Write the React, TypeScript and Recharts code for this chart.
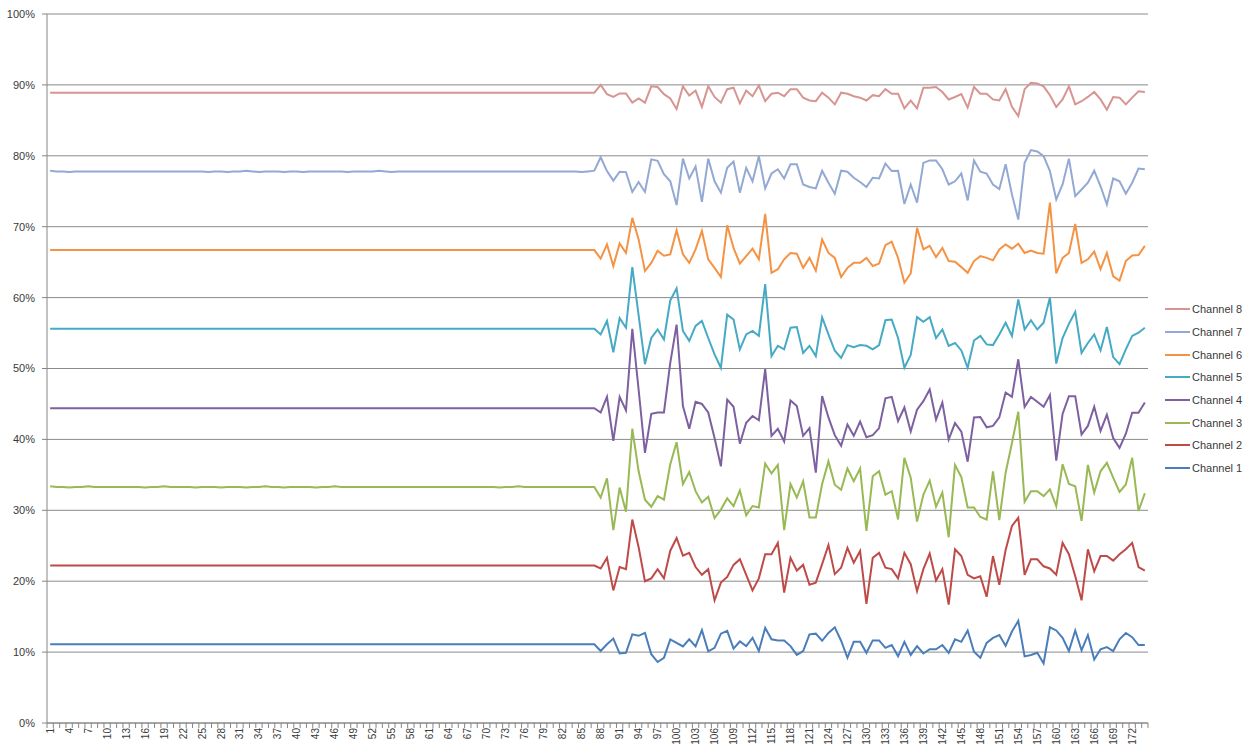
import React from "react";
import { LineChart, Line, XAxis, YAxis, CartesianGrid, Legend } from "recharts";

// categories 1..174 (sample index)
const categories = Array.from({ length: 174 }, (_, i) => String(i + 1));
const yTicks = [0, 10, 20, 30, 40, 50, 60, 70, 80, 90, 100];

// values in %, samples 1-87 then 88-174
const channel1 = [
  11.1, 11.1, 11.1, 11.1, 11.1, 11.1, 11.1, 11.1, 11.1,
  11.1, 11.1, 11.1, 11.1, 11.1, 11.1, 11.1, 11.1, 11.1, 11.1,
  11.1, 11.1, 11.1, 11.1, 11.1, 11.1, 11.1, 11.1, 11.1, 11.1,
  11.1, 11.1, 11.1, 11.1, 11.1, 11.1, 11.1, 11.1, 11.1, 11.1,
  11.1, 11.1, 11.1, 11.1, 11.1, 11.1, 11.1, 11.1, 11.1, 11.1,
  11.1, 11.1, 11.1, 11.1, 11.1, 11.1, 11.1, 11.1, 11.1, 11.1,
  11.1, 11.1, 11.1, 11.1, 11.1, 11.1, 11.1, 11.1, 11.1, 11.1,
  11.1, 11.1, 11.1, 11.1, 11.1, 11.1, 11.1, 11.1, 11.1, 11.1,
  11.1, 11.1, 11.1, 11.1, 11.1, 11.1, 11.1, 11.1,
  10.15, 11.1, 11.9, 9.8, 9.9, 12.5, 12.3, 12.7, 9.7, 8.6, 9.2, 11.8,
  11.3, 10.8, 11.8, 10.8, 13.1, 10.1, 10.6, 12.6, 13.0, 10.5,
  11.5, 10.85, 12.0, 10.15, 13.4, 11.8, 11.65, 11.65, 10.85, 9.6,
  10.15, 12.5, 12.6, 11.6, 12.7, 13.5, 11.6, 9.2, 11.45, 11.45,
  9.9, 11.65, 11.65, 10.6, 11.0, 9.4, 11.45, 9.6, 10.85, 9.8,
  10.4, 10.4, 11.0, 9.9, 11.8, 11.45, 13.05, 10.05, 9.2, 11.3,
  12.0, 12.4, 10.9, 12.9, 14.4, 9.4, 9.6, 9.9, 8.4, 13.5,
  13.05, 12.0, 10.15, 13.05, 10.25, 12.4, 8.95, 10.4, 10.7, 10.15,
  11.8, 12.7, 12.1, 11.0, 11.0,
];

const channel2 = [
  22.2, 22.2, 22.2, 22.2, 22.2, 22.2, 22.2, 22.2, 22.2,
  22.2, 22.2, 22.2, 22.2, 22.2, 22.2, 22.2, 22.2, 22.2, 22.2,
  22.2, 22.2, 22.2, 22.2, 22.2, 22.2, 22.2, 22.2, 22.2, 22.2,
  22.2, 22.2, 22.2, 22.2, 22.2, 22.2, 22.2, 22.2, 22.2, 22.2,
  22.2, 22.2, 22.2, 22.2, 22.2, 22.2, 22.2, 22.2, 22.2, 22.2,
  22.2, 22.2, 22.2, 22.2, 22.2, 22.2, 22.2, 22.2, 22.2, 22.2,
  22.2, 22.2, 22.2, 22.2, 22.2, 22.2, 22.2, 22.2, 22.2, 22.2,
  22.2, 22.2, 22.2, 22.2, 22.2, 22.2, 22.2, 22.2, 22.2, 22.2,
  22.2, 22.2, 22.2, 22.2, 22.2, 22.2, 22.2, 22.2,
  21.8, 23.3, 18.7, 22.0, 21.7, 28.7, 24.8, 20.0, 20.4, 21.7, 20.4, 24.3,
  26.1, 23.6, 24.0, 22.0, 20.9, 21.7, 17.3, 19.8, 20.6, 22.3,
  23.1, 20.9, 18.7, 20.4, 23.8, 23.8, 25.4, 18.4, 23.3, 21.5,
  22.3, 19.5, 19.8, 22.4, 25.1, 21.0, 21.9, 24.7, 22.6, 24.25,
  16.8, 23.3, 24.0, 21.9, 21.7, 20.4, 24.0, 22.4, 18.6, 21.7,
  23.9, 20.1, 21.7, 16.7, 24.5, 23.55, 20.9, 20.4, 20.7, 17.8,
  23.55, 19.5, 24.4, 27.8, 28.95, 20.9, 23.1, 23.1, 22.1, 21.8,
  20.9, 25.4, 23.8, 20.7, 17.3, 24.5, 21.4, 23.55, 23.55, 22.9,
  23.8, 24.5, 25.4, 22.0, 21.5,
];

const channel3 = [
  33.4, 33.3, 33.3, 33.2, 33.3, 33.3, 33.4, 33.3, 33.3,
  33.3, 33.3, 33.3, 33.3, 33.3, 33.3, 33.2, 33.3, 33.3, 33.4,
  33.3, 33.3, 33.3, 33.3, 33.2, 33.3, 33.3, 33.3, 33.2, 33.3,
  33.3, 33.3, 33.2, 33.3, 33.3, 33.4, 33.3, 33.3, 33.2, 33.3,
  33.3, 33.3, 33.3, 33.2, 33.3, 33.3, 33.4, 33.3, 33.3, 33.3,
  33.3, 33.3, 33.3, 33.3, 33.3, 33.3, 33.3, 33.3, 33.3, 33.3,
  33.3, 33.3, 33.3, 33.3, 33.3, 33.3, 33.3, 33.3, 33.3, 33.3,
  33.3, 33.3, 33.2, 33.3, 33.3, 33.4, 33.3, 33.3, 33.3, 33.3,
  33.3, 33.3, 33.3, 33.3, 33.3, 33.3, 33.3, 33.3,
  31.8, 34.5, 27.2, 33.2, 29.8, 41.5, 35.5, 31.5, 30.5, 32.0, 31.5, 36.5,
  39.6, 33.7, 35.4, 32.7, 31.1, 31.9, 28.9, 30.1, 31.7, 30.6,
  32.8, 29.3, 30.6, 30.4, 36.6, 35.2, 36.4, 27.2, 33.7, 31.8,
  34.1, 29.0, 29.0, 33.7, 36.9, 33.6, 32.9, 35.9, 34.1, 35.9,
  27.1, 34.8, 35.5, 32.2, 32.7, 28.7, 37.4, 34.6, 28.4, 32.2,
  34.2, 30.5, 32.5, 26.2, 36.4, 34.7, 30.4, 30.4, 29.05, 28.7,
  35.5, 28.6, 35.3, 39.5, 43.9, 31.2, 32.7, 32.7, 32.0, 32.95,
  30.6, 36.5, 33.7, 33.4, 28.5, 36.4, 32.5, 35.5, 36.7, 34.6,
  32.6, 33.65, 37.4, 29.9, 32.4,
];

const channel4 = [
  44.4, 44.4, 44.4, 44.4, 44.4, 44.4, 44.4, 44.4, 44.4,
  44.4, 44.4, 44.4, 44.4, 44.4, 44.4, 44.4, 44.4, 44.4, 44.4,
  44.4, 44.4, 44.4, 44.4, 44.4, 44.4, 44.4, 44.4, 44.4, 44.4,
  44.4, 44.4, 44.4, 44.4, 44.4, 44.4, 44.4, 44.4, 44.4, 44.4,
  44.4, 44.4, 44.4, 44.4, 44.4, 44.4, 44.4, 44.4, 44.4, 44.4,
  44.4, 44.4, 44.4, 44.4, 44.4, 44.4, 44.4, 44.4, 44.4, 44.4,
  44.4, 44.4, 44.4, 44.4, 44.4, 44.4, 44.4, 44.4, 44.4, 44.4,
  44.4, 44.4, 44.4, 44.4, 44.4, 44.4, 44.4, 44.4, 44.4, 44.4,
  44.4, 44.4, 44.4, 44.4, 44.4, 44.4, 44.4, 44.4,
  43.8, 46.0, 39.8, 46.0, 44.1, 55.6, 47.0, 38.1, 43.6, 43.8, 43.8, 50.8,
  56.2, 44.7, 41.5, 45.3, 45.0, 43.8, 40.2, 36.2, 45.6, 44.6,
  39.4, 42.35, 43.3, 42.7, 49.9, 40.5, 41.5, 39.7, 45.5, 44.7,
  40.5, 41.6, 35.3, 46.1, 43.1, 40.6, 39.1, 42.1, 40.5, 42.5,
  40.3, 40.6, 41.6, 45.8, 46.0, 42.6, 44.5, 41.1, 44.2, 45.4,
  47.05, 42.8, 45.2, 40.0, 42.3, 41.1, 36.85, 43.1, 43.15, 41.7,
  41.9, 43.1, 46.6, 46.0, 51.3, 44.6, 46.0, 45.3, 44.6, 46.25,
  37.0, 43.6, 46.1, 46.1, 40.7, 41.9, 44.6, 41.2, 43.5, 40.2,
  38.8, 40.8, 43.75, 43.75, 45.2,
];

const channel5 = [
  55.6, 55.6, 55.6, 55.6, 55.6, 55.6, 55.6, 55.6, 55.6,
  55.6, 55.6, 55.6, 55.6, 55.6, 55.6, 55.6, 55.6, 55.6, 55.6,
  55.6, 55.6, 55.6, 55.6, 55.6, 55.6, 55.6, 55.6, 55.6, 55.6,
  55.6, 55.6, 55.6, 55.6, 55.6, 55.6, 55.6, 55.6, 55.6, 55.6,
  55.6, 55.6, 55.6, 55.6, 55.6, 55.6, 55.6, 55.6, 55.6, 55.6,
  55.6, 55.6, 55.6, 55.6, 55.6, 55.6, 55.6, 55.6, 55.6, 55.6,
  55.6, 55.6, 55.6, 55.6, 55.6, 55.6, 55.6, 55.6, 55.6, 55.6,
  55.6, 55.6, 55.6, 55.6, 55.6, 55.6, 55.6, 55.6, 55.6, 55.6,
  55.6, 55.6, 55.6, 55.6, 55.6, 55.6, 55.6, 55.6,
  54.8, 56.7, 52.3, 57.1, 55.75, 64.3, 57.5, 50.6, 54.3, 55.5, 54.1, 59.6,
  61.3, 55.3, 53.9, 56.0, 56.7, 54.3, 52.0, 50.1, 57.6, 56.9,
  52.7, 54.8, 55.3, 54.6, 61.9, 51.75, 53.2, 52.7, 55.75, 55.85,
  52.2, 53.2, 51.75, 57.2, 54.8, 52.5, 51.5, 53.3, 53.0, 53.3,
  53.2, 52.7, 53.3, 56.8, 56.9, 54.3, 50.1, 51.9, 57.25, 56.6,
  57.25, 54.3, 55.5, 53.2, 53.6, 52.55, 50.1, 53.95, 54.6, 53.4,
  53.3, 54.8, 56.45, 54.6, 59.75, 55.5, 56.8, 55.5, 56.45, 60.0,
  50.7, 54.3, 56.3, 58.0, 52.2, 53.6, 54.8, 52.55, 55.85, 51.6,
  50.6, 52.7, 54.6, 55.05, 55.75,
];

const channel6 = [
  66.7, 66.7, 66.7, 66.7, 66.7, 66.7, 66.7, 66.7, 66.7,
  66.7, 66.7, 66.7, 66.7, 66.7, 66.7, 66.7, 66.7, 66.7, 66.7,
  66.7, 66.7, 66.7, 66.7, 66.7, 66.7, 66.7, 66.7, 66.7, 66.7,
  66.7, 66.7, 66.7, 66.7, 66.7, 66.7, 66.7, 66.7, 66.7, 66.7,
  66.7, 66.7, 66.7, 66.7, 66.7, 66.7, 66.7, 66.7, 66.7, 66.7,
  66.7, 66.7, 66.7, 66.7, 66.7, 66.7, 66.7, 66.7, 66.7, 66.7,
  66.7, 66.7, 66.7, 66.7, 66.7, 66.7, 66.7, 66.7, 66.7, 66.7,
  66.7, 66.7, 66.7, 66.7, 66.7, 66.7, 66.7, 66.7, 66.7, 66.7,
  66.7, 66.7, 66.7, 66.7, 66.7, 66.7, 66.7, 66.7,
  65.5, 67.5, 64.45, 67.65, 66.3, 71.25, 68.2, 63.75, 64.9, 66.6, 65.9, 66.1,
  69.5, 66.1, 64.9, 66.8, 69.4, 65.4, 64.2, 62.9, 70.2, 67.0,
  64.8, 65.85, 66.9, 65.4, 71.8, 63.5, 64.0, 65.4, 66.3, 66.2,
  64.2, 65.6, 63.8, 68.2, 66.3, 65.6, 62.9, 64.2, 64.9, 64.9,
  65.6, 64.45, 64.8, 67.4, 67.9, 65.6, 62.1, 63.4, 69.85, 66.8,
  67.3, 65.7, 67.0, 65.15, 65.05, 64.3, 63.5, 65.15, 65.85, 65.6,
  65.25, 66.8, 67.5, 66.9, 67.6, 66.3, 66.65, 66.3, 66.2, 73.4,
  63.4, 65.6, 66.3, 70.4, 64.9, 65.4, 66.5, 64.0, 66.3, 63.0,
  62.4, 65.15, 65.95, 66.0, 67.3,
];

const channel7 = [
  77.9, 77.8, 77.8, 77.7, 77.8, 77.8, 77.8, 77.8, 77.8,
  77.8, 77.8, 77.8, 77.8, 77.8, 77.8, 77.8, 77.8, 77.8, 77.8,
  77.8, 77.8, 77.8, 77.8, 77.8, 77.8, 77.7, 77.8, 77.8, 77.7,
  77.8, 77.8, 77.9, 77.8, 77.7, 77.8, 77.8, 77.8, 77.7, 77.8,
  77.8, 77.7, 77.8, 77.8, 77.8, 77.8, 77.8, 77.8, 77.7, 77.8,
  77.8, 77.8, 77.8, 77.9, 77.8, 77.7, 77.8, 77.8, 77.8, 77.8,
  77.8, 77.8, 77.8, 77.8, 77.8, 77.8, 77.8, 77.8, 77.8, 77.8,
  77.8, 77.8, 77.8, 77.8, 77.8, 77.8, 77.8, 77.8, 77.8, 77.8,
  77.8, 77.8, 77.8, 77.8, 77.8, 77.7, 77.8, 77.9,
  79.8, 77.85, 76.5, 77.75, 77.7, 74.9, 76.3, 74.9, 79.5, 79.3, 77.4, 76.4,
  73.05, 79.6, 76.8, 78.5, 73.5, 79.6, 76.4, 74.8, 78.3, 79.2,
  74.8, 78.3, 76.4, 79.95, 75.4, 77.5, 78.1, 76.8, 78.8, 78.8,
  75.95, 75.6, 75.4, 77.9, 76.2, 74.65, 77.9, 77.75, 76.9, 76.3,
  75.6, 76.9, 76.8, 78.9, 77.85, 77.9, 73.2, 75.95, 73.4, 79.0,
  79.35, 79.35, 78.1, 75.95, 76.4, 77.5, 73.7, 79.35, 77.75, 77.5,
  75.95, 75.3, 78.8, 74.55, 71.0, 79.0, 80.8, 80.6, 79.95, 77.85,
  73.85, 75.95, 79.6, 74.3, 75.25, 76.2, 77.9, 75.7, 73.15, 76.8,
  76.4, 74.65, 76.2, 78.2, 78.1,
];

const channel8 = [
  88.9, 88.9, 88.9, 88.9, 88.9, 88.9, 88.9, 88.9, 88.9,
  88.9, 88.9, 88.9, 88.9, 88.9, 88.9, 88.9, 88.9, 88.9, 88.9,
  88.9, 88.9, 88.9, 88.9, 88.9, 88.9, 88.9, 88.9, 88.9, 88.9,
  88.9, 88.9, 88.9, 88.9, 88.9, 88.9, 88.9, 88.9, 88.9, 88.9,
  88.9, 88.9, 88.9, 88.9, 88.9, 88.9, 88.9, 88.9, 88.9, 88.9,
  88.9, 88.9, 88.9, 88.9, 88.9, 88.9, 88.9, 88.9, 88.9, 88.9,
  88.9, 88.9, 88.9, 88.9, 88.9, 88.9, 88.9, 88.9, 88.9, 88.9,
  88.9, 88.9, 88.9, 88.9, 88.9, 88.9, 88.9, 88.9, 88.9, 88.9,
  88.9, 88.9, 88.9, 88.9, 88.9, 88.9, 88.9, 88.9,
  90.0, 88.7, 88.3, 88.8, 88.8, 87.5, 88.1, 87.5, 89.8, 89.7, 88.7, 88.1,
  86.6, 89.8, 88.5, 89.2, 86.9, 89.8, 88.3, 87.5, 89.4, 89.6,
  87.4, 89.2, 88.4, 89.9, 87.7, 88.75, 88.9, 88.4, 89.4, 89.4,
  88.2, 87.8, 87.7, 88.9, 88.2, 87.25, 88.9, 88.75, 88.4, 88.2,
  87.8, 88.55, 88.4, 89.4, 88.75, 88.75, 86.7, 87.8, 86.7, 89.6,
  89.6, 89.7, 89.0, 87.95, 88.3, 88.7, 86.8, 89.7, 88.75, 88.75,
  87.95, 87.8, 89.4, 86.9, 85.6, 89.4, 90.3, 90.2, 89.8, 88.55,
  86.9, 87.95, 89.8, 87.25, 87.7, 88.3, 89.0, 87.95, 86.5, 88.3,
  88.2, 87.25, 88.2, 89.1, 89.0,
];

const seriesNames = ["Channel 1", "Channel 2", "Channel 3", "Channel 4", "Channel 5", "Channel 6", "Channel 7", "Channel 8"];
const seriesColors = ["#4A7EBB", "#BE4B48", "#98B954", "#7D60A0", "#46AAC5", "#F59345", "#93A9D3", "#D79592"];
const seriesValues = [channel1, channel2, channel3, channel4, channel5, channel6, channel7, channel8];

const data = categories.map((name, i) => {
  const row: Record<string, string | number> = { name };
  seriesValues.forEach((vals, s) => {
    row["ch" + (s + 1)] = vals[i];
  });
  return row;
});

const WIDTH = 1254;
const HEIGHT = 749;
const Y_AXIS_W = 47;
const RIGHT = 106;
const PLOT_W = WIDTH - Y_AXIS_W - RIGHT;
const BAND = PLOT_W / categories.length;
const FONT = "'Liberation Sans', Arial, sans-serif";

// tick marks between categories, label on every 3rd category
const CategoryTick = (props: any) => {
  const { x, y, payload, index } = props;
  const left = x - BAND / 2;
  return (
    <g>
      <line x1={left} y1={y} x2={left} y2={y + 5} stroke="#868686" />
      {index === categories.length - 1 && (
        <line x1={x + BAND / 2} y1={y} x2={x + BAND / 2} y2={y + 5} stroke="#868686" />
      )}
      {index % 3 === 0 && (
        <text
          x={0}
          y={0}
          transform={`translate(${x}, ${y + 5}) rotate(-90)`}
          textAnchor="end"
          dy="0.35em"
          fontSize={10}
          fontFamily={FONT}
          fill="#3a3a3a"
        >
          {payload.value}
        </text>
      )}
    </g>
  );
};

const renderLegend = () => (
  <div style={{ fontFamily: FONT, fontSize: 11, color: "#3a3a3a" }}>
    {seriesNames
      .map((n, i) => ({ n, c: seriesColors[i] }))
      .reverse()
      .map((item) => (
        <div key={item.n} style={{ display: "flex", alignItems: "center", height: 22.7 }}>
          <div style={{ width: 25, height: 2, background: item.c }} />
          <span style={{ marginLeft: 2, whiteSpace: "nowrap" }}>{item.n}</span>
        </div>
      ))}
  </div>
);

export default function App() {
  return (
    <div style={{ width: WIDTH, height: HEIGHT, background: "#fff" }}>
      <style>{"body{margin:0;}"}</style>
      <LineChart
        width={WIDTH}
        height={HEIGHT}
        data={data}
        margin={{ top: 14, right: RIGHT, left: 0, bottom: 0 }}
      >
        <CartesianGrid vertical={false} stroke="#8a8a8a" strokeWidth={1} />
        <XAxis
          dataKey="name"
          interval={0}
          height={26}
          padding={{ left: BAND / 2, right: BAND / 2 }}
          tick={<CategoryTick />}
          tickLine={false}
          tickSize={0}
          tickMargin={0}
          axisLine={{ stroke: "#868686" }}
        />
        <YAxis
          width={Y_AXIS_W}
          domain={[0, 100]}
          ticks={yTicks}
          tickFormatter={(v: number) => v + "%"}
          tickSize={5}
          tickMargin={7}
          tickLine={{ stroke: "#868686" }}
          axisLine={{ stroke: "#868686" }}
          tick={{ fontSize: 11, fontFamily: FONT, fill: "#3a3a3a" }}
        />
        <Legend
          content={renderLegend}
          layout="horizontal"
          align="center"
          verticalAlign="middle"
          wrapperStyle={{ position: "absolute", left: 1165, top: 298, width: 89 }}
        />
        {seriesNames.map((n, i) => (
          <Line
            key={n}
            type="linear"
            dataKey={"ch" + (i + 1)}
            name={n}
            stroke={seriesColors[i]}
            strokeWidth={2}
            dot={false}
            activeDot={false}
            isAnimationActive={false}
          />
        ))}
      </LineChart>
    </div>
  );
}
